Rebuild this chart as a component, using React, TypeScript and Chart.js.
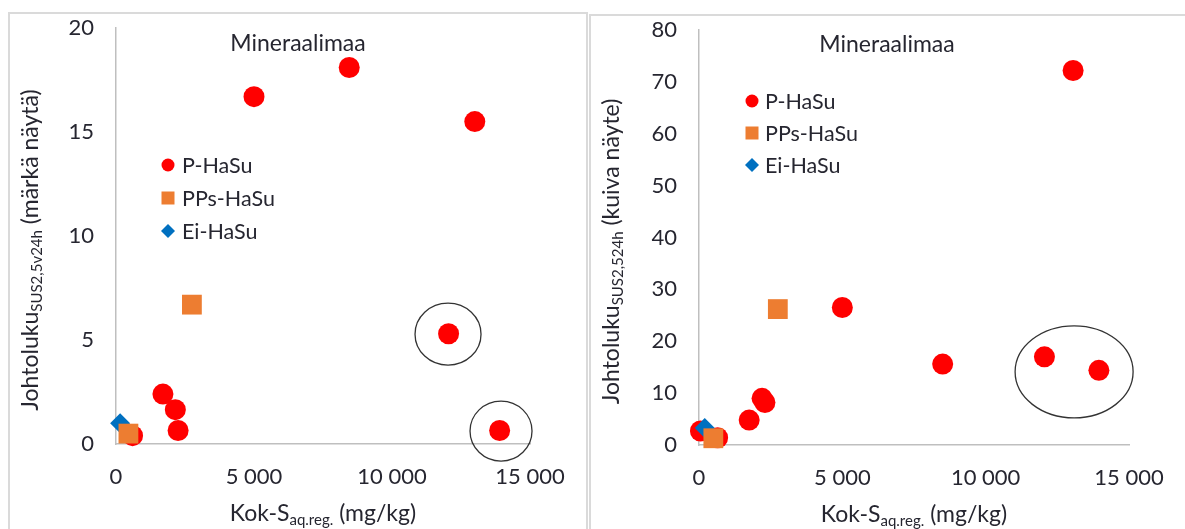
import React, { useEffect, useRef } from 'react';
import { Chart, registerables } from 'chart.js';

Chart.register(...registerables);

// ---------- data ----------
const xTickValues = [0, 5000, 10000, 15000];
const leftYTicks = [0, 5, 10, 15, 20];
const rightYTicks = [0, 10, 20, 30, 40, 50, 60, 70, 80];

const seriesNames = ['P-HaSu', 'PPs-HaSu', 'Ei-HaSu'];

// Left chart (märkä näyte)
const leftPHaSuX = [5000, 8450, 13000, 12050, 13900, 1700, 2150, 2250, 600];
const leftPHaSuY = [16.7, 18.1, 15.5, 5.3, 0.65, 2.4, 1.65, 0.65, 0.4];
const leftPPsX = [2750, 450];
const leftPPsY = [6.7, 0.5];
const leftEiX = [150];
const leftEiY = [1.0];

// Right chart (kuiva näyte)
const rightPHaSuX = [13050, 5000, 8500, 12050, 13950, 2200, 2300, 1750, 50, 650];
const rightPHaSuY = [72.2, 26.5, 15.6, 17.0, 14.4, 9.0, 8.2, 4.8, 2.7, 1.4];
const rightPPsX = [2750, 500];
const rightPPsY = [26.2, 1.3];
const rightEiX = [200];
const rightEiY = [3.3];

// highlighted groups (centre in data units)
const leftHighlightX = [12030, 13950];
const leftHighlightY = [5.28, 0.62];
const rightHighlightX = [13085];
const rightHighlightY = [14.1];

// ---------- styles ----------
const FONT = 'Lato, "Open Sans", sans-serif';
const TEXT = '#262630';
const RED = '#FF0000';
const ORANGE = '#ED7D31';
const BLUE = '#0070C0';
const AXIS = '#BFBFBF';

const zip = (xs: number[], ys: number[]) => xs.map((x, i) => ({ x, y: ys[i] }));
const fmt = (v: number) => String(v).replace(/\B(?=(\d{3})+(?!\d))/g, ' ');

type Seg = { t: string; size: number; sub?: boolean };

function drawRich(ctx: CanvasRenderingContext2D, segs: Seg[]) {
  let total = 0;
  const widths = segs.map((s) => {
    ctx.font = `${s.size}px ${FONT}`;
    const w = ctx.measureText(s.t).width;
    total += w;
    return w;
  });
  let x = -total / 2;
  ctx.textAlign = 'left';
  ctx.textBaseline = 'alphabetic';
  segs.forEach((s, i) => {
    ctx.font = `${s.size}px ${FONT}`;
    ctx.fillText(s.t, x, s.sub ? 12 : 8);
    x += widths[i];
  });
}

function drawMarker(ctx: CanvasRenderingContext2D, style: string, x: number, y: number, color: string) {
  ctx.fillStyle = color;
  ctx.beginPath();
  if (style === 'circle') {
    ctx.arc(x, y, 6.5, 0, Math.PI * 2);
  } else if (style === 'rect') {
    ctx.rect(x - 6.5, y - 6.5, 13, 13);
  } else {
    ctx.moveTo(x, y - 7);
    ctx.lineTo(x + 7, y);
    ctx.lineTo(x, y + 7);
    ctx.lineTo(x - 7, y);
    ctx.closePath();
  }
  ctx.fill();
}

const overlayPlugin = {
  id: 'overlay',
  afterDraw(chart: any, _args: any, opts: any) {
    const { ctx, chartArea: a, scales } = chart;
    ctx.save();
    ctx.fillStyle = TEXT;
    // title
    ctx.font = `${opts.titleSize}px ${FONT}`;
    ctx.textAlign = 'center';
    ctx.textBaseline = 'middle';
    ctx.fillText('Mineraalimaa', (a.left + a.right) / 2 + opts.titleDx, a.top + opts.titleDy);

    // legend
    chart.data.datasets.forEach((ds: any, i: number) => {
      const mx = a.left + opts.legendDx;
      const my = a.top + opts.legendDy + i * opts.legendGap;
      drawMarker(ctx, ds.pointStyle, mx, my, ds.backgroundColor);
      ctx.fillStyle = TEXT;
      ctx.font = `${opts.legendSize}px ${FONT}`;
      ctx.textAlign = 'left';
      ctx.textBaseline = 'middle';
      ctx.fillText(ds.label, mx + opts.legendTextDx, my + 1);
    });

    // highlight ellipses
    ctx.strokeStyle = '#333';
    ctx.lineWidth = 1.3;
    opts.hx.forEach((hx: number, i: number) => {
      const cx = scales.x.getPixelForValue(hx);
      const cy = scales.y.getPixelForValue(opts.hy[i]);
      ctx.beginPath();
      ctx.ellipse(cx, cy, opts.rx[i], opts.ry[i], 0, 0, Math.PI * 2);
      ctx.stroke();
    });

    // x title
    ctx.fillStyle = TEXT;
    ctx.save();
    ctx.translate((a.left + a.right) / 2, a.bottom + 69);
    drawRich(ctx, [
      { t: 'Kok-S', size: 23 },
      { t: 'aq.reg.', size: 15, sub: true },
      { t: ' (mg/kg)', size: 23 },
    ]);
    ctx.restore();

    // y title
    ctx.save();
    ctx.translate(a.left + opts.yTitleDx, (a.top + a.bottom) / 2 + 14);
    ctx.rotate(-Math.PI / 2);
    drawRich(ctx, opts.yTitle);
    ctx.restore();

    ctx.restore();
  },
};

function makeDatasets(px: number[], py: number[], sx: number[], sy: number[], ex: number[], ey: number[]) {
  return [
    {
      label: seriesNames[0], data: zip(px, py), pointStyle: 'circle', pointRadius: 10.5,
      backgroundColor: RED, borderColor: RED, borderWidth: 0, order: 3, clip: false,
    },
    {
      label: seriesNames[1], data: zip(sx, sy), pointStyle: 'rect', pointRadius: 14,
      backgroundColor: ORANGE, borderColor: ORANGE, borderWidth: 0, order: 1, clip: false,
    },
    {
      label: seriesNames[2], data: zip(ex, ey), pointStyle: 'rectRot', pointRadius: 10,
      backgroundColor: BLUE, borderColor: BLUE, borderWidth: 0, order: 2, clip: false,
    },
  ];
}

function ScatterPanel(props: {
  datasets: any[]; yTicks: number[]; yWidth: number; xHeight: number; padRight: number; padTop: number;
  overlay: any; width: number; height: number; left: number; top: number;
}) {
  const ref = useRef<HTMLCanvasElement | null>(null);
  useEffect(() => {
    if (!ref.current) return;
    const yt = props.yTicks;
    const chart = new Chart(ref.current, {
      type: 'scatter',
      data: { datasets: props.datasets },
      plugins: [overlayPlugin],
      options: {
        animation: false,
        responsive: false,
        devicePixelRatio: 1,
        layout: { padding: { left: 0, right: props.padRight, top: props.padTop, bottom: 0 } },
        plugins: {
          legend: { display: false },
          title: { display: false },
          tooltip: { enabled: false },
          overlay: props.overlay,
        } as any,
        scales: {
          x: {
            type: 'linear', min: xTickValues[0], max: xTickValues[xTickValues.length - 1],
            afterBuildTicks: (s: any) => { s.ticks = xTickValues.map((v) => ({ value: v })); },
            afterFit: (s: any) => { s.height = props.xHeight; s.paddingLeft = 0; s.paddingRight = 0; },
            grid: { display: false, drawTicks: false },
            border: { display: true, color: AXIS, width: 1.5 },
            ticks: { color: TEXT, font: { family: FONT, size: 22 }, padding: 20, maxRotation: 0, callback: (v: any) => fmt(Number(v)) },
          },
          y: {
            type: 'linear', min: yt[0], max: yt[yt.length - 1],
            afterBuildTicks: (s: any) => { s.ticks = yt.map((v) => ({ value: v })); },
            afterFit: (s: any) => { s.width = props.yWidth; s.paddingTop = 0; s.paddingBottom = 0; },
            grid: { display: false, drawTicks: false },
            border: { display: true, color: AXIS, width: 1.5 },
            ticks: { color: TEXT, font: { family: FONT, size: 22 }, padding: 22 },
          },
        },
      } as any,
    });
    return () => chart.destroy();
  }, []);
  return (
    <canvas
      ref={ref}
      width={props.width}
      height={props.height}
      style={{ position: 'absolute', left: props.left, top: props.top, width: props.width, height: props.height }}
    />
  );
}

export default function App() {
  const leftDatasets = makeDatasets(leftPHaSuX, leftPHaSuY, leftPPsX, leftPPsY, leftEiX, leftEiY);
  const rightDatasets = makeDatasets(rightPHaSuX, rightPHaSuY, rightPPsX, rightPPsY, rightEiX, rightEiY);
  return (
    <div style={{ position: 'fixed', left: 0, top: 0, width: 1185, height: 529, background: '#fff', overflow: 'hidden' }}>
      <div style={{ position: 'absolute', left: 8, top: 12, width: 580, height: 560, border: '2px solid #DADADA', boxSizing: 'border-box' }} />
      <div style={{ position: 'absolute', left: 589, top: 14, width: 620, height: 560, border: '2px solid #DADADA', boxSizing: 'border-box' }} />
      <ScatterPanel
        datasets={leftDatasets} yTicks={leftYTicks}
        left={10} top={14} width={576} height={515}
        yWidth={106} xHeight={85} padRight={56} padTop={13}
        overlay={{
          titleSize: 23, titleDx: -25, titleDy: 16,
          legendDx: 52, legendDy: 137, legendGap: 33, legendTextDx: 14, legendSize: 21.5,
          hx: leftHighlightX, hy: leftHighlightY, rx: [33, 31], ry: [31, 30],
          yTitleDx: -86,
          yTitle: [
            { t: 'Johtoluku', size: 23 },
            { t: 'SUS2,5v24h', size: 15, sub: true },
            { t: ' (märkä näytä)', size: 23 },
          ],
        }}
      />
      <ScatterPanel
        datasets={rightDatasets} yTicks={rightYTicks}
        left={591} top={16} width={594} height={513}
        yWidth={108} xHeight={84} padRight={56} padTop={14}
        overlay={{
          titleSize: 23, titleDx: -27, titleDy: 15,
          legendDx: 53, legendDy: 71, legendGap: 32, legendTextDx: 13, legendSize: 21.5,
          hx: rightHighlightX, hy: rightHighlightY, rx: [59], ry: [46],
          yTitleDx: -88,
          yTitle: [
            { t: 'Johtoluku', size: 23 },
            { t: 'SUS2,524h', size: 15, sub: true },
            { t: ' (kuiva näyte)', size: 23 },
          ],
        }}
      />
    </div>
  );
}
